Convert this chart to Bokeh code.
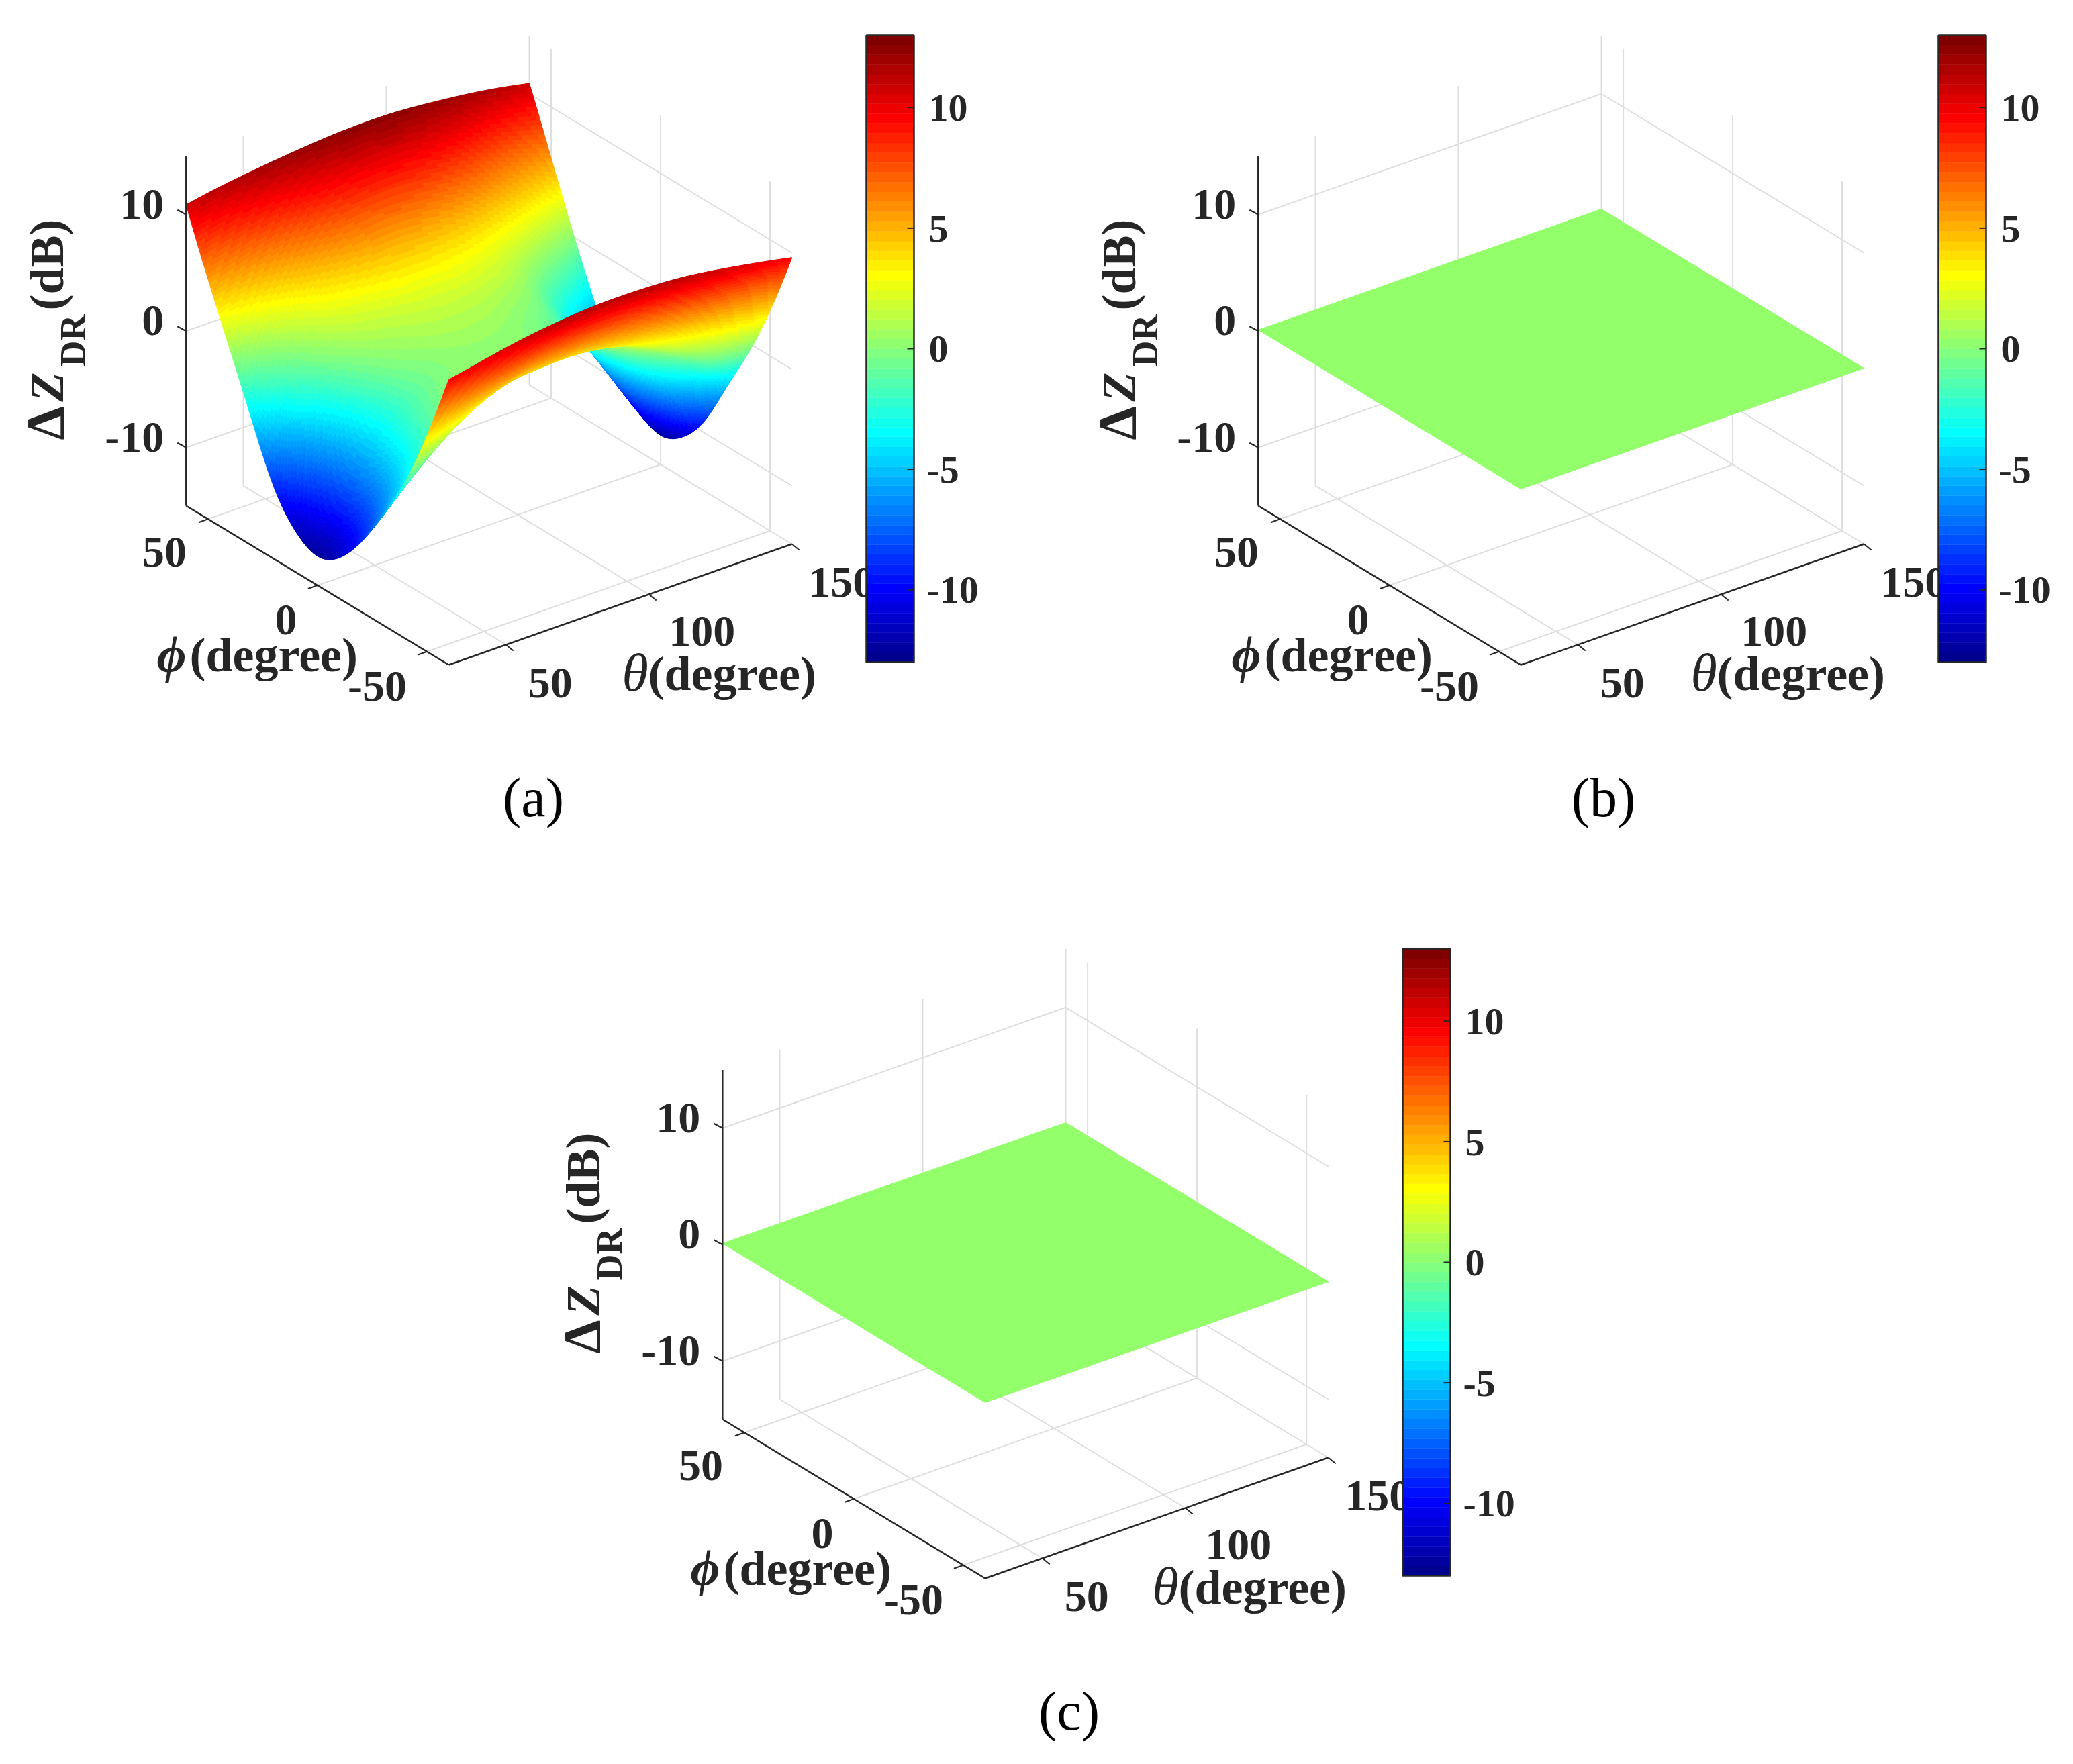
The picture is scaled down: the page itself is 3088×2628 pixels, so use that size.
import numpy as np
from bokeh.plotting import figure
from bokeh.models import Range1d, ColumnDataSource
from bokeh.embed import file_html
from bokeh.resources import INLINE
from bokeh.core.properties import value

# ---------- data ----------
THETA = [30, 40, 50, 60, 70, 80, 90, 100, 110, 120, 130, 140, 150]
PHI = [-60, -50, -40, -30, -20, -10, 0, 10, 20, 30, 40, 50, 60]
ZDR_PHI_M60 = [9.5, 10.0, 10.5, 10.9, 11.2, 11.4, 11.45, 11.4, 11.25, 10.95, 10.55, 10.1, 9.6]
ZDR_PHI_M50 = [3.5, 4.6, 5.6, 6.4, 7.0, 7.3, 7.4, 7.2, 6.7, 6.0, 5.2, 4.5, 3.9]
ZDR_PHI_M40 = [-1.6, 0.2, 2.0, 3.3, 4.0, 4.2, 4.3, 4.0, 3.4, 2.5, 1.1, -0.4, -0.9]
ZDR_PHI_M30 = [-5.6, -2.9, -0.4, 1.3, 2.2, 2.6, 2.7, 2.6, 2.1, 1.0, -0.6, -2.7, -5.0]
ZDR_PHI_M20 = [-9.0, -5.6, -2.4, -0.3, 0.9, 1.4, 1.6, 1.4, 0.9, -0.3, -2.6, -5.7, -9.0]
ZDR_PHI_M10 = [-11.5, -7.6, -3.6, -1.1, 0.1, 0.6, 0.7, 0.5, -0.1, -1.3, -4.0, -7.7, -11.5]
ZDR_PHI_0 = [-12.5, -8.3, -4.2, -1.6, -0.3, 0.2, 0.3, 0.1, -0.4, -1.7, -4.6, -8.6, -12.5]
ZDR_PHI_10 = [-11.5, -7.5, -3.6, -0.9, 0.2, 0.7, 0.8, 0.6, 0.0, -1.1, -3.9, -7.7, -11.5]
ZDR_PHI_20 = [-8.8, -5.1, -1.7, 0.4, 1.1, 1.5, 1.6, 1.5, 1.0, 0.0, -2.4, -5.6, -8.9]
ZDR_PHI_30 = [-4.2, -1.6, 0.6, 2.0, 2.5, 2.9, 3.0, 2.9, 2.5, 1.6, 0.0, -2.0, -4.6]
ZDR_PHI_40 = [0.7, 1.9, 3.1, 4.3, 5.0, 5.4, 5.5, 5.3, 4.9, 4.2, 3.2, 1.9, 0.3]
ZDR_PHI_50 = [5.6, 6.3, 7.1, 7.9, 8.6, 9.0, 9.2, 9.2, 8.9, 8.3, 7.4, 6.5, 5.6]
ZDR_PHI_60 = [10.85, 11.3, 11.65, 11.95, 12.2, 12.4, 12.5, 12.5, 12.35, 12.1, 11.8, 11.4, 10.9]
ZDR_A = [ZDR_PHI_M60, ZDR_PHI_M50, ZDR_PHI_M40, ZDR_PHI_M30, ZDR_PHI_M20, ZDR_PHI_M10, ZDR_PHI_0,
         ZDR_PHI_10, ZDR_PHI_20, ZDR_PHI_30, ZDR_PHI_40, ZDR_PHI_50, ZDR_PHI_60]
FLAT_THETA = [30, 150]
FLAT_PHI = [-60, 60]
ZDR_FLAT = [[0.1, 0.1], [0.1, 0.1]]

THETA_TICKS = [50, 100, 150]
PHI_TICKS = [50, 0, -50]
Z_TICKS = [10, 0, -10]
CB_TICKS = [10, 5, 0, -5, -10]
THETA_LIMS = (30, 150)
PHI_LIMS = (-60, 60)
Z_LIMS = (-15, 15)
C_LIMS = (-13, 13)
CAPTIONS = ["(a)", "(b)", "(c)"]

# ---------- layout / style ----------
W, H = 3072, 2612
DARK = "#262626"
GRID = "#dedede"
FLAT_COLOR = "#93FF6B"
SERIF = value("Liberation Serif")
BASE_FIX = 0.28                # the renderer sets alphabetic text this many em low
OX, OY = 668.0, 990.0          # screen place of (theta_min, phi_min, z_min) in panel a
TX, TY = 4.26, 1.50            # px per degree theta
PX, PY = 3.26, 1.975           # px per degree phi
ZS = 17.35                     # px per dB
PANELS = [
    dict(dx=0, dy=0, cap=(794, 1211), phil=0, thl=0),
    dict(dx=1597, dy=0, cap=(2388, 1211), phil=4, thl=-5),
    dict(dx=799, dy=1361, cap=(1592, 2572), phil=-4, thl=-9),
]

p = figure(width=W, height=H, x_range=Range1d(0, W), y_range=Range1d(H, 0),
           output_backend="svg", toolbar_location=None, min_border=0,
           outline_line_color=None, background_fill_color="white", border_fill_color="white")
p.axis.visible = False
p.grid.visible = False


def jet(m=64):
    n = int(np.ceil(m / 4))
    u = np.r_[np.arange(1, n + 1) / n, np.ones(n - 1), np.arange(n, 0, -1) / n]
    g = (int(np.ceil(n / 2)) - (1 if m % 4 == 1 else 0) + np.arange(1, len(u) + 1)) - 1
    r, b = g + n, g - n
    c = np.zeros((m, 3))
    c[r[r < m], 0] = u[r < m]
    c[g[g < m], 1] = u[g < m]
    c[b[b >= 0], 2] = u[b >= 0]
    return ["#%02x%02x%02x" % tuple(int(round(v * 255)) for v in row) for row in c]


JET = jet()


def proj(pn, theta, phi, z):
    t = np.asarray(theta, float) - THETA_LIMS[0]
    f = np.asarray(phi, float) - PHI_LIMS[0]
    zz = np.asarray(z, float) - Z_LIMS[0]
    return pn["dx"] + OX + t * TX - f * PX, pn["dy"] + OY - t * TY - f * PY - zz * ZS


def seg(pn, a, b, color, width):
    x, y = proj(pn, [a[0], b[0]], [a[1], b[1]], [a[2], b[2]])
    p.line(list(x), list(y), line_color=color, line_width=width)


def txt(x, y, s, size, style="bold", align="left", angle=0.0, color=DARK):
    x = x - BASE_FIX * size * np.sin(angle)
    y = y - BASE_FIX * size * np.cos(angle)
    p.text([x], [y], text=[s], text_font=SERIF, text_font_size=f"{size}px",
           text_font_style=style, text_align=align, text_baseline="alphabetic",
           text_color=color, angle=angle)


def smooth(axis_vals, table, k, ax):
    # shading-only resampling of the read grid (as in shading interp): cubic spline along one axis
    v = np.moveaxis(np.asarray(table, float), ax, 0)
    n = v.shape[0]
    A = np.zeros((n, n))
    B = np.zeros_like(v)
    A[0, :3] = [1, -2, 1]
    A[-1, -3:] = [1, -2, 1]
    for i in range(1, n - 1):
        A[i, i - 1:i + 2] = [1, 4, 1]
        B[i] = 6 * (v[i - 1] - 2 * v[i] + v[i + 1])
    M = np.linalg.solve(A, B)
    s = np.linspace(0, n - 1, (n - 1) * k + 1)
    i = np.minimum(s.astype(int), n - 2)
    u = (s - i)[(...,) + (None,) * (v.ndim - 1)]
    out = (1 - u) * v[i] + u * v[i + 1] + ((1 - u) ** 3 - (1 - u)) * M[i] / 6 + (u ** 3 - u) * M[i + 1] / 6
    return np.interp(s, np.arange(n), axis_vals), np.moveaxis(out, 0, ax)


def surface(pn, theta, phi, table, k=16):
    th, zz = smooth(theta, table, k, 1)
    ph, zz = smooth(phi, zz, k, 0)
    T, F = np.meshgrid(th, ph)
    X, Y = proj(pn, T, F, zz)
    xs, ys, cs = [], [], []
    # far to near: phi high first, theta high first
    for j in range(len(ph) - 2, -1, -1):
        for i in range(len(th) - 2, -1, -1):
            xs.append(np.round([X[j, i], X[j, i + 1], X[j + 1, i + 1], X[j + 1, i]], 1).tolist())
            ys.append(np.round([Y[j, i], Y[j, i + 1], Y[j + 1, i + 1], Y[j + 1, i]], 1).tolist())
            m = zz[j:j + 2, i:i + 2].mean()
            idx = int(np.clip((m - C_LIMS[0]) / (C_LIMS[1] - C_LIMS[0]) * 64, 0, 63))
            cs.append(JET[idx])
    p.patches("xs", "ys", source=ColumnDataSource(dict(xs=xs, ys=ys, c=cs)),
              fill_color="c", line_color="c", line_width=1)


def frame(pn):
    t0, t1 = THETA_LIMS
    f0, f1 = PHI_LIMS
    z0, z1 = Z_LIMS
    for t in THETA_TICKS:
        seg(pn, (t, f0, z0), (t, f1, z0), GRID, 2)
        seg(pn, (t, f1, z0), (t, f1, z1), GRID, 2)
    for f in PHI_TICKS:
        seg(pn, (t0, f, z0), (t1, f, z0), GRID, 2)
        seg(pn, (t1, f, z0), (t1, f, z1), GRID, 2)
    for z in Z_TICKS:
        seg(pn, (t0, f1, z), (t1, f1, z), GRID, 2)
        seg(pn, (t1, f1, z), (t1, f0, z), GRID, 2)


def axes(pn):
    t0, t1 = THETA_LIMS
    f0, f1 = PHI_LIMS
    z0, z1 = Z_LIMS
    seg(pn, (t0, f1, z0), (t0, f1, z1), DARK, 2.5)
    seg(pn, (t0, f1, z0), (t0, f0, z0), DARK, 2.5)
    seg(pn, (t0, f0, z0), (t1, f0, z0), DARK, 2.5)
    for z in Z_TICKS:
        x, y = proj(pn, t0, f1, z)
        p.line([float(x), float(x) - 13], [float(y), float(y) - 7], line_color=DARK, line_width=2)
        txt(float(x) - 33, float(y) + 3, str(z), 66, align="right")
    for f, (ox, oy) in zip(PHI_TICKS, [(-65, 68), (-47, 70), (-74, 70)]):
        x, y = proj(pn, t0, f, z0)
        p.line([float(x), float(x) - 14], [float(y), float(y) + 5], line_color=DARK, line_width=2)
        txt(float(x) + ox, float(y) + oy, str(f), 66, align="center")
    for t, (ox, oy) in zip(THETA_TICKS, [(66, 75), (79, 73), (74, 75)]):
        x, y = proj(pn, t, f0, z0)
        p.line([float(x), float(x) + 11], [float(y), float(y) + 9], line_color=DARK, line_width=2)
        txt(float(x) + ox, float(y) + oy, str(t), 66, align="center")
    dx, dy = pn["dx"], pn["dy"]
    # axis titles
    txt(233 + dx + pn["phil"], 996 + dy, "\u03d5", 76, style="bold italic")
    txt(282 + dx + pn["phil"], 996 + dy, "(degree)", 72)
    txt(926 + dx + pn["thl"], 1024 + dy, "\u03b8", 80, style="italic")
    txt(965 + dx + pn["thl"], 1024 + dy, "(degree)", 72)
    a = np.pi / 2
    txt(90 + dx, 655 + dy, "\u0394", 80, angle=a)
    txt(90 + dx, 598 + dy, "Z", 72, style="bold italic", angle=a)
    txt(124 + dx, 546 + dy, "DR", 54, angle=a)
    txt(90 + dx, 462 + dy, "(dB)", 72, angle=a)


def colorbar(pn):
    dx, dy = pn["dx"], pn["dy"]
    x0, x1, ytop, ybot = 1290 + dx, 1361 + dx, 52 + dy, 986 + dy
    c0, c1 = C_LIMS
    sc = lambda v: ybot - (v - c0) / (c1 - c0) * (ybot - ytop)
    vals = np.linspace(c0, c1, 65)
    p.quad(left=x0, right=x1, bottom=[sc(v) for v in vals[:-1]], top=[sc(v) for v in vals[1:]],
           fill_color=JET, line_color=JET, line_width=0.5)
    p.quad(left=[x0], right=[x1], bottom=[ybot], top=[ytop], fill_color=None, line_color=DARK, line_width=2.5)
    for v in CB_TICKS:
        y = sc(v)
        p.line([x1 - 10, x1], [y, y], line_color=DARK, line_width=2)
        txt(x0 + (93 if v >= 0 else 90), y + 17, str(v), 58)


for k, pn in enumerate(PANELS):
    frame(pn)
    if k == 0:
        surface(pn, THETA, PHI, ZDR_A)
    else:
        X, Y = proj(pn, [FLAT_THETA[0], FLAT_THETA[1], FLAT_THETA[1], FLAT_THETA[0]],
                    [FLAT_PHI[0], FLAT_PHI[0], FLAT_PHI[1], FLAT_PHI[1]],
                    [ZDR_FLAT[0][0], ZDR_FLAT[0][1], ZDR_FLAT[1][1], ZDR_FLAT[1][0]])
        p.patch(list(X), list(Y), fill_color=FLAT_COLOR, line_color=FLAT_COLOR, line_width=1)
    axes(pn)
    colorbar(pn)
    txt(pn["cap"][0], pn["cap"][1], CAPTIONS[k], 82, style="normal", align="center", color="#000000")

open("out.html", "w").write(file_html(p, INLINE))
